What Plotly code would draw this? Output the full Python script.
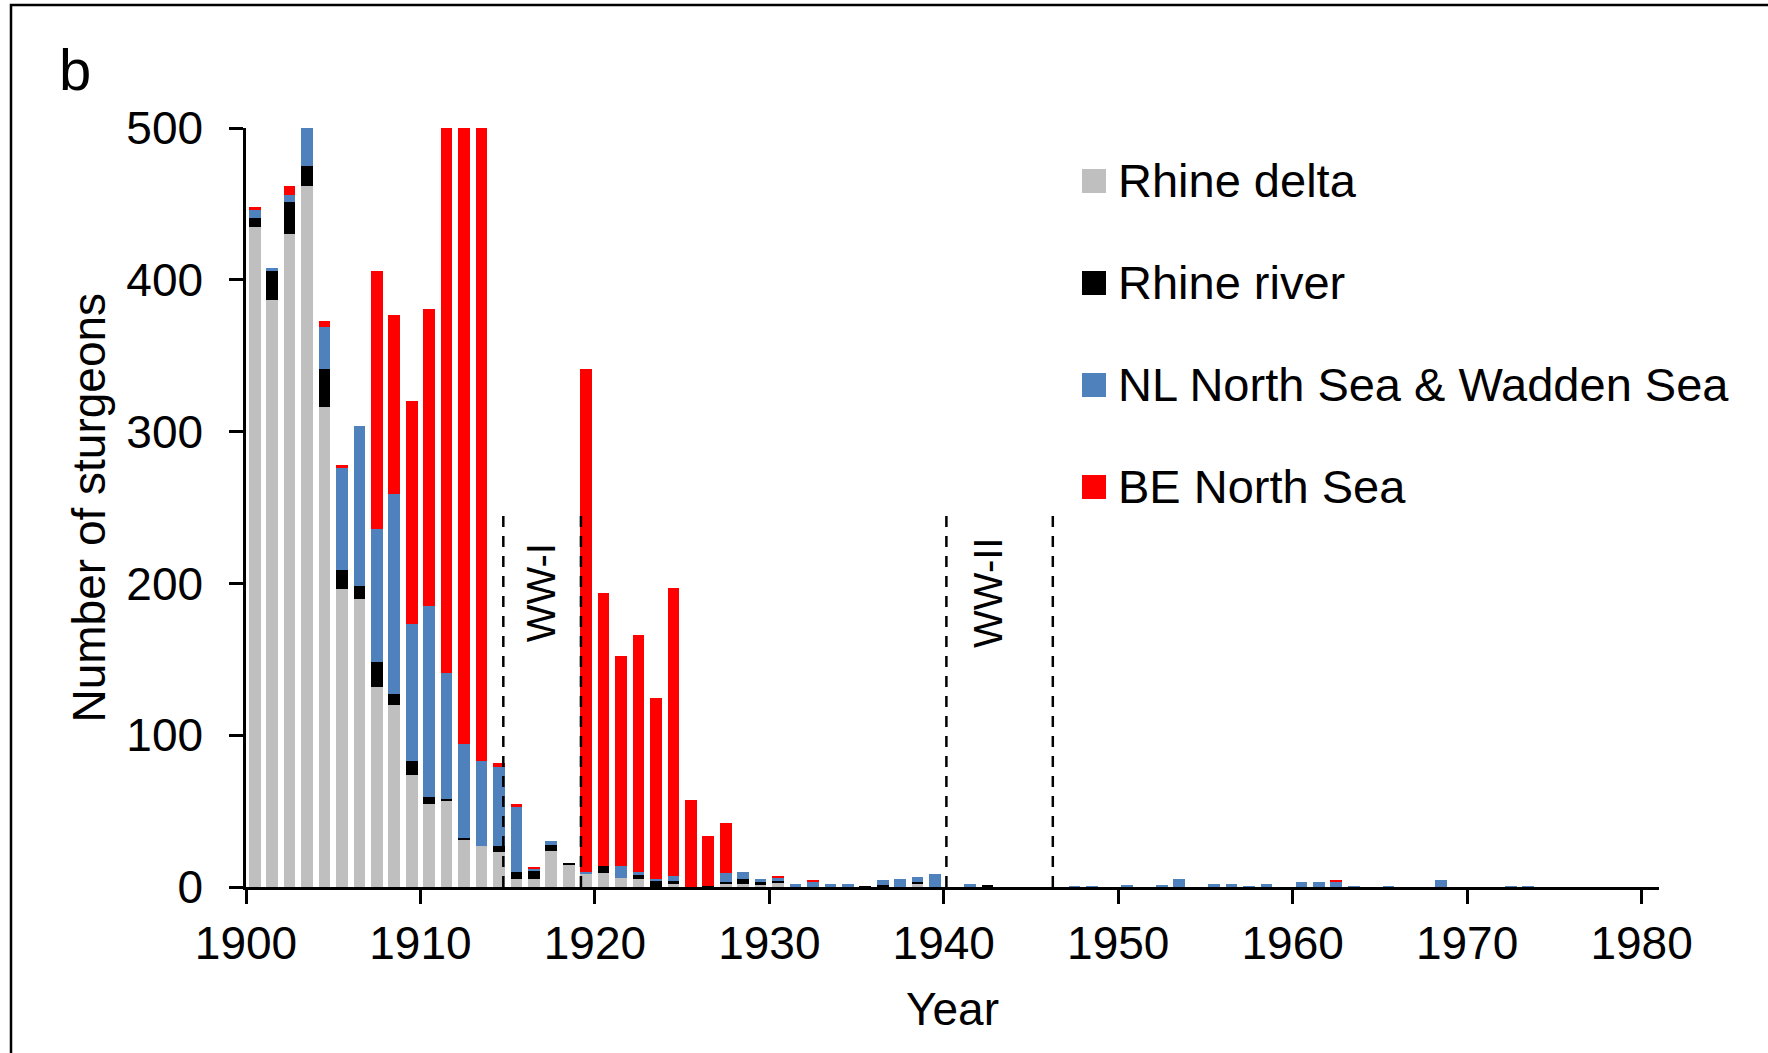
import plotly.graph_objects as go

years = list(range(1900, 1981))

rhine_delta = [435, 387, 430, 462, 316, 196, 190, 132, 120, 74,
               55, 57, 31, 27, 23, 5, 5, 24, 15, 9,
               9, 6, 5, 0, 2, 0, 0, 2, 2, 1.5,
               3, 0, 0, 0, 0, 0, 0, 0, 2, 0,
               0, 0, 0, 0, 0, 0, 0, 0, 0, 0,
               0, 0, 0, 0, 0, 0, 0, 0, 0, 0,
               0, 0, 0, 0, 0, 0, 0, 0, 0, 0,
               0, 0, 0, 0, 0, 0, 0, 0, 0, 0, 0]
rhine_river = [6, 19, 21, 13, 25, 13, 8, 16, 7, 9,
               4, 1, 1, 0, 4, 5, 6, 4, 1, 0,
               5, 0, 3, 4, 2, 0, 0.5, 1, 3.5, 2,
               1, 0, 0, 0, 0, 0.5, 1, 0, 1.5, 0,
               0, 0, 1, 0, 0, 0, 0, 0, 0, 0,
               0, 0, 0, 0, 0, 0, 0, 0, 0, 0,
               0, 0, 0, 0, 0, 0, 0, 0, 0, 0,
               0, 0, 0, 0, 0, 0, 0, 0, 0, 0, 0]
nl_north_wadden = [5, 2, 5, 40, 28, 67, 106, 88, 132, 90,
                   126, 83, 62, 56, 52, 43, 1, 2, 0, 1,
                   0, 8, 2, 1.5, 3, 0, 0, 6, 4.5, 2,
                   2, 2, 3.3, 2.2, 2.2, 0, 3.5, 5.3, 3, 8.6,
                   0, 2.2, 0, 0, 0, 0, 0, 0.5, 0.5, 0,
                   1.5, 0, 1.5, 5.5, 0, 2, 2, 0.5, 2, 0,
                   3, 3, 3, 0.5, 0, 0.5, 0, 0, 4.4, 0,
                   0, 0, 0.5, 0.5, 0, 0, 0, 0, 0, 0, 0]
be_north_sea = [2, 0, 6, 0, 4, 2, 0, 170, 118, 147,
                196, 450, 480, 470, 3, 2, 1, 0, 0, 331,
                180, 138, 156, 119, 190, 57, 33, 33, 0, 0,
                1.5, 0, 1, 0, 0, 0, 0, 0, 0, 0,
                0, 0, 0, 0, 0, 0, 0, 0, 0, 0,
                0, 0, 0, 0, 0, 0, 0, 0, 0, 0,
                0, 0, 1.5, 0, 0, 0, 0, 0, 0, 0,
                0, 0, 0, 0, 0, 0, 0, 0, 0, 0, 0]

series_names = ["Rhine delta", "Rhine river", "NL North Sea & Wadden Sea", "BE North Sea"]
series_values = [rhine_delta, rhine_river, nl_north_wadden, be_north_sea]
series_colors = ["#BFBFBF", "#000000", "#4F81BD", "#FF0000"]

x_ticks = list(range(1900, 1981, 10))
y_ticks = [0, 100, 200, 300, 400, 500]

war_lines = [1914.75, 1919.2, 1940.15, 1946.25]
war_labels = [("WW-I", 1916.9), ("WW-II", 1942.5)]

FONT = "Arial, 'Liberation Sans', sans-serif"
W, H = 1768, 1053
L, R, T, B = 246, 1659, 128, 887


def px(xpix):
    return (xpix - L) / (R - L)


def py(ypix):
    return (B - ypix) / (B - T)


fig = go.Figure()
bar_x = [y + 0.5 for y in years]
for name, vals, col in zip(series_names, series_values, series_colors):
    fig.add_trace(go.Bar(x=bar_x, y=vals, name=name, marker_color=col,
                         marker_line_width=0, showlegend=False))

shapes = []
for xv in war_lines:
    shapes.append(dict(type="line", xref="x", yref="y", x0=xv, x1=xv, y0=0, y1=250,
                       line=dict(color="black", width=2.5, dash="11px,9px"), layer="above"))

# outer frame
shapes.append(dict(type="rect", xref="paper", yref="paper",
                   x0=px(11), x1=px(1800), y0=py(1100), y1=py(5),
                   line=dict(color="black", width=2.5), fillcolor="rgba(0,0,0,0)"))

annotations = []
for txt, xv in war_labels:
    annotations.append(dict(text=txt, x=xv, y=194, xref="x", yref="y", showarrow=False,
                            textangle=-90, font=dict(family=FONT, size=40, color="black"),
                            xanchor="center", yanchor="middle"))

# custom legend
row_y = [181, 283, 385, 487]
for name, col, ry in zip(series_names, series_colors, row_y):
    shapes.append(dict(type="rect", xref="paper", yref="paper",
                       x0=px(1082), x1=px(1106), y0=py(ry + 12), y1=py(ry - 12),
                       line=dict(width=0), fillcolor=col))
    annotations.append(dict(text=name, x=px(1116), y=py(ry - 1), xref="paper", yref="paper",
                            showarrow=False, xanchor="left", yanchor="middle",
                            font=dict(family=FONT, size=47, color="black")))

annotations.append(dict(text="b", x=px(57), y=py(70), xref="paper", yref="paper",
                        showarrow=False, xanchor="left", yanchor="middle",
                        font=dict(family=FONT, size=58, color="black")))
annotations.append(dict(text="Year", x=0.5, y=py(1009), xref="paper", yref="paper",
                        showarrow=False, xanchor="center", yanchor="middle",
                        font=dict(family=FONT, size=46, color="black")))
annotations.append(dict(text="Number of sturgeons", x=px(88), y=0.5, xref="paper", yref="paper",
                        showarrow=False, xanchor="center", yanchor="middle", textangle=-90,
                        font=dict(family=FONT, size=46, color="black")))

fig.update_layout(
    width=W, height=H,
    margin=dict(l=L, r=W - R, t=T, b=H - B, pad=0),
    paper_bgcolor="white", plot_bgcolor="white",
    barmode="stack", bargap=0.33,
    font=dict(family=FONT, size=46, color="black"),
    shapes=shapes, annotations=annotations,
    xaxis=dict(range=[1900, 1981], tickvals=x_ticks, ticktext=[str(v) for v in x_ticks],
               showgrid=False, zeroline=False, showline=True, linecolor="black", linewidth=2.5,
               ticks="outside", ticklen=14, tickwidth=2.5, tickcolor="black",
               tickfont=dict(family=FONT, size=46, color="black")),
    yaxis=dict(range=[0, 500], tickvals=y_ticks, ticktext=[str(v) for v in y_ticks],
               showgrid=False, zeroline=False, showline=True, linecolor="black", linewidth=2.5,
               ticks="outside", ticklen=14, tickwidth=2.5, tickcolor="black",
               ticklabelstandoff=17,
               tickfont=dict(family=FONT, size=46, color="black")),
)

fig.write_html("out.html", config={"displayModeBar": False},
               post_script="document.body.style.margin='0';document.body.style.overflow='hidden';")
